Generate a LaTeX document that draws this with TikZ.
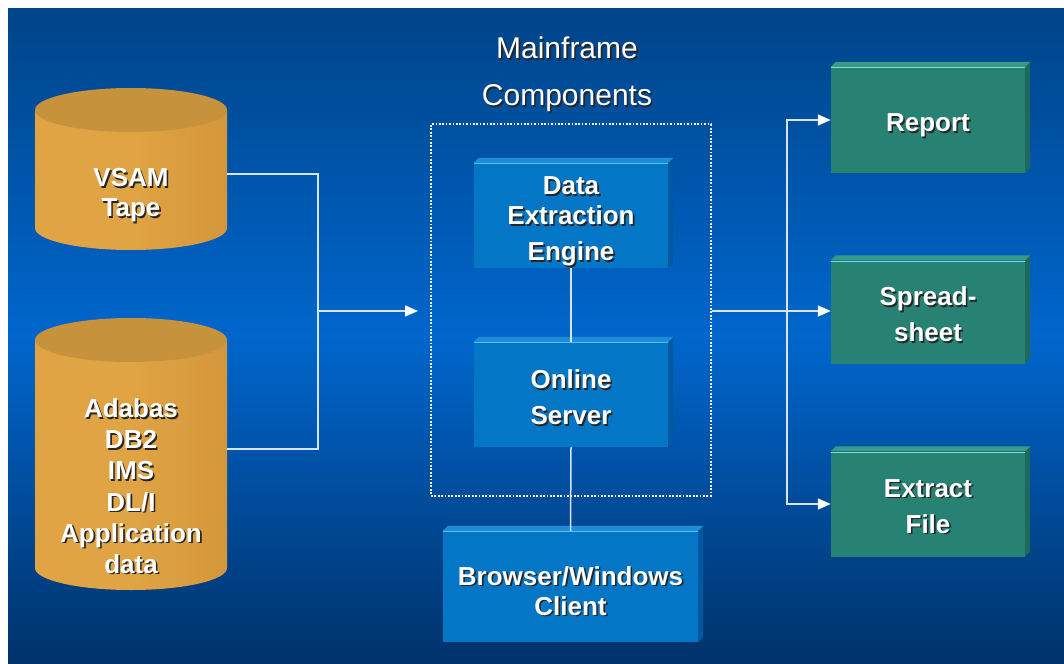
\documentclass[tikz,border=0pt]{standalone}
\usepackage{fontspec}
\setmainfont{Liberation Sans}
\usetikzlibrary{arrows.meta,calc}
\definecolor{bgtop}{RGB}{0,68,136}
\definecolor{bgmid}{RGB}{0,102,204}
\definecolor{bgbot}{RGB}{0,50,106}
\definecolor{cylbody}{RGB}{224,164,68}
\definecolor{cylright}{RGB}{212,150,58}
\definecolor{cyltop}{RGB}{198,146,60}
\definecolor{bluefront}{RGB}{4,118,198}
\definecolor{bluetop}{RGB}{30,140,215}
\definecolor{bluehi}{RGB}{90,190,245}
\definecolor{blueside}{RGB}{0,88,160}
\definecolor{tealfront}{RGB}{40,130,116}
\definecolor{tealtop}{RGB}{55,155,135}
\definecolor{tealhi}{RGB}{120,225,200}
\definecolor{tealside}{RGB}{30,104,92}
\definecolor{linec}{RGB}{215,228,245}
\newcommand\sh[1]{\leavevmode\rlap{\kern1.6pt\raisebox{-1.6pt}{\color{black!85}#1}}#1}
\newcommand\boxfaces[4]{%
  \fill[#3] (#1.north east) -- ++(5,-5) -- ($(#1.south east)+(5,-5)$) -- (#1.south east) -- cycle;
  \fill[#2] (#1.north west) -- ++(5,-5) -- ($(#1.north east)+(5,-5)$) -- (#1.north east) -- cycle;
  \draw[#4, line width=1.3pt] ($(#1.north west)+(0,1)$) -- ($(#1.north east)+(0,1)$);
}
\begin{document}
\begin{tikzpicture}[x=1pt,y=-1pt,
  conn/.style={draw=linec, line width=1.5pt},
  tipend/.style={-{Triangle[length=13pt,width=11pt,color=white]}},
  boldtxt/.style={text=white, font=\bfseries\fontsize{26}{30}\selectfont, align=center},
  bluebox/.style={fill=bluefront, minimum width=194pt, minimum height=105pt, inner sep=0pt},
  tealbox/.style={fill=tealfront, minimum width=194pt, minimum height=105pt, inner sep=0pt},
  txt/.style 2 args={label={[boldtxt, yshift=-#1pt]center:{#2}}},
  cylnode/.style={minimum width=192pt, inner sep=0pt},
  cyltext/.style={boldtxt}]
\useasboundingbox (0,0) rectangle (1064,663);
\fill[white] (0,0) rectangle (1064,663);
\shade[top color=bgtop, bottom color=bgbot, middle color=bgmid] (8,9) rectangle (1064,663);

% cylinders
\shade[left color=cylbody, right color=cylright, middle color=cylbody]
  (35,110) -- (35,228) arc[start angle=180, end angle=0, x radius=96, y radius=22] -- (227,110) -- cycle;
\fill[cyltop] (131,110) ellipse [x radius=96, y radius=22];
\shade[left color=cylbody, right color=cylright, middle color=cylbody]
  (35,340) -- (35,568) arc[start angle=180, end angle=0, x radius=96, y radius=22] -- (227,340) -- cycle;
\fill[cyltop] (131,340) ellipse [x radius=96, y radius=22];
\node[cylnode, minimum height=118pt] (cyl1) at (131,174) {};
\node[cylnode, minimum height=228pt] (cyl2) at (131,449) {};
\node[cyltext] (cyl1t) at (131,196) {\sh{VSAM}\\\sh{Tape}};
\node[cyltext, font=\bfseries\fontsize{26}{31}\selectfont] (cyl2t) at (131,487) {\sh{Adabas}\\\sh{DB2}\\\sh{IMS}\\\sh{DL/I}\\\sh{Application}\\\sh{data}};

% title and mainframe frame
\node[text=white, font=\fontsize{30}{47}\selectfont, align=center] (title) at (567,75) {\sh{Mainframe}\\\sh{Components}};
\node[draw=white, line width=2pt, dash pattern=on 1.7pt off 1.7pt, minimum width=280pt, minimum height=371pt, inner sep=0pt] (mf) at (571,310) {};

% blue boxes
\node[bluebox, txt={7}{\sh{Data}\\\sh{Extraction}\\[6pt]\sh{Engine}}] (data) at (571,215.5) {};
\boxfaces{data}{bluetop}{blueside}{bluehi}
\node[bluebox, txt={4}{\sh{Online}\\[6pt]\sh{Server}}] (online) at (571,394.5) {};
\boxfaces{online}{bluetop}{blueside}{bluehi}
\node[bluebox, minimum width=255pt, minimum height=111pt, txt={5}{\sh{Browser/Windows}\\\sh{Client}}] (browser) at (570.5,586.5) {};
\boxfaces{browser}{bluetop}{blueside}{bluehi}

% teal boxes
\node[tealbox, minimum height=106pt, txt={6}{\sh{Report}}] (report) at (928,120) {};
\boxfaces{report}{tealtop}{tealside}{tealhi}
\node[tealbox, minimum height=103pt, txt={3}{\sh{Spread-}\\[6pt]\sh{sheet}}] (spread) at (928,312) {};
\boxfaces{spread}{tealtop}{tealside}{tealhi}
\node[tealbox, txt={3}{\sh{Extract}\\[6pt]\sh{File}}] (extract) at (928,504) {};
\boxfaces{extract}{tealtop}{tealside}{tealhi}

% connectors
\coordinate (busL) at (318,311);
\coordinate (busR) at (787,311);
\draw[conn] (cyl1.east) -| (busL) |- (cyl2.east);
\draw[conn, tipend, shorten >=12pt] (busL) -- (mf.west |- busL);
\draw[conn, tipend] (mf.east |- busR) -- (spread.west |- busR);
\draw[conn, {Triangle[length=13pt,width=11pt,color=white]}-{Triangle[length=13pt,width=11pt,color=white]}] (report.west) -| (busR) |- (extract.west);
\draw[conn] (data.south) -- (online.north);
\draw[conn] (online.south) -- (browser.north);
\end{tikzpicture}
\end{document}
